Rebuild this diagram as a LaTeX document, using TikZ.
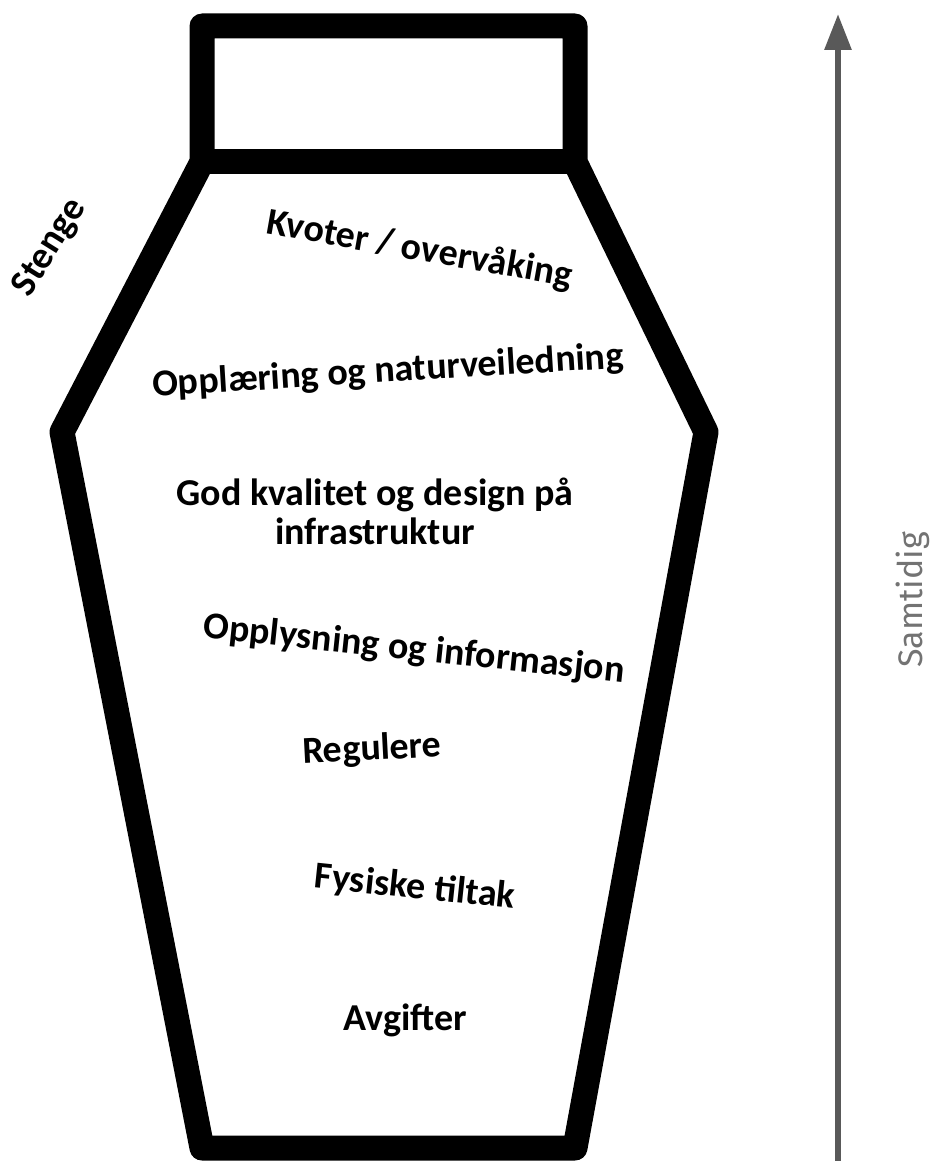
\documentclass[tikz,border=0pt]{standalone}
\usepackage{fontspec}
\setmainfont{Carlito}
\newfontfamily\samfont{Fira Sans}
\usetikzlibrary{arrows.meta}
\begin{document}
\begin{tikzpicture}[x=1pt,y=-1pt,
  bottle/.style={draw=black,line width=25pt,line join=round},
  lab/.style={font=\fontsize{38}{39}\selectfont\bfseries,align=center,inner sep=0pt},
  axis/.style={draw=black!65,line width=6pt,-{Triangle[length=36pt,width=26pt]}}]
\useasboundingbox (0,0) rectangle (932,1161);
% bottle
\coordinate (c1) at (202,26);
\coordinate (c2) at (575,26);
\coordinate (n2) at (575,162);
\coordinate (s2) at (706,432);
\coordinate (b2) at (575,1148);
\coordinate (b1) at (202,1148);
\coordinate (s1) at (62,432);
\coordinate (n1) at (202,162);
\draw[bottle] (c1) -- (c2) -- (n2) -- (s2) -- (b2) -- (b1) -- (s1) -- (n1) -- cycle;
\draw[bottle,line join=miter] (n1) -- (n2);
% labels
\node[lab,rotate=58] (st) at (50,248) {Stenge};
\node[lab,rotate=-10] (kv) at (420,250) {Kvoter / overvåking};
\node[lab,rotate=3.5] (op) at (388,372) {Opplæring og naturveiledning};
\node[lab] (gk) at (375,511) {God kvalitet og design på\\infrastruktur};
\node[lab,rotate=-6] (oi) at (414,650) {Opplysning og informasjon};
\node[lab,rotate=3] (re) at (372,750) {Regulere};
\node[lab,rotate=-6] (fy) at (415,888) {Fysiske tiltak};
\node[lab] (av) at (405,1020) {Avgifter};
% axis
\coordinate (a0) at (838,1161);
\coordinate (a1) at (838,14);
\draw[axis] (a0) -- (a1);
\node[rotate=90,font=\samfont\fontsize{34}{40}\selectfont,text=black!55,inner sep=0pt] (sa) at (913,600) {Samtidig};
\end{tikzpicture}
\end{document}
